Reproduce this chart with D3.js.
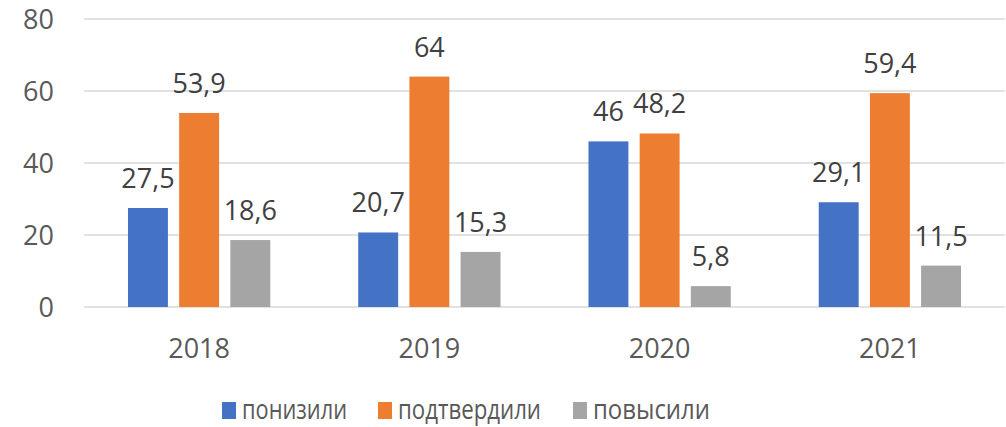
<!DOCTYPE html>
<html>
<head>
<meta charset="utf-8">
<script src="https://cdn.jsdelivr.net/npm/d3@7"></script>
<style>
  body { margin: 0; background: #fff; }
  svg { display: block; }
  text { font-family: "Open Sans", "Noto Sans", sans-serif; }
</style>
</head>
<body>
<svg id="chart" width="1006" height="427"></svg>
<script>
const years = ["2018", "2019", "2020", "2021"];
const seriesNames = ["понизили", "подтвердили", "повысили"];
const seriesColors = ["#4472C4", "#ED7D31", "#A5A5A5"];
const lowered = [27.5, 20.7, 46, 29.1];
const confirmed = [53.9, 64, 48.2, 59.4];
const raised = [18.6, 15.3, 5.8, 11.5];
const yTicks = [0, 20, 40, 60, 80];

const seriesValues = [lowered, confirmed, raised];

const svg = d3.select("#chart");
const plotLeft = 84, plotRight = 1005, plotTop = 19, plotBottom = 307;

const y = d3.scaleLinear().domain([0, 80]).range([plotBottom, plotTop]);
const x0 = d3.scaleBand().domain(years).range([plotLeft, plotRight]).paddingInner(0.382).paddingOuter(0.191);
const x1 = d3.scaleBand().domain(seriesNames).range([0, x0.bandwidth()]).paddingInner(0.22).paddingOuter(0);

// gridlines
svg.append("g").selectAll("line").data(yTicks).join("line")
  .attr("x1", plotLeft).attr("x2", plotRight)
  .attr("y1", d => y(d)).attr("y2", d => y(d))
  .attr("stroke", "#D9D9D9").attr("stroke-width", 1.5);

// y tick labels
svg.append("g").selectAll("text").data(yTicks).join("text")
  .attr("x", 54).attr("y", d => y(d))
  .attr("dy", "0.36em")
  .attr("text-anchor", "end")
  .attr("font-size", 27).attr("fill", "#595959")
  .text(d => d);

// x labels
svg.append("g").selectAll("text").data(years).join("text")
  .attr("x", d => x0(d) + x0.bandwidth() / 2).attr("y", 358)
  .attr("text-anchor", "middle")
  .attr("font-size", 27).attr("fill", "#595959")
  .text(d => d);

// bars & labels
const fmt = v => String(v).replace(".", ",");
seriesNames.forEach((s, si) => {
  const data = years.map((yr, i) => ({ yr, v: seriesValues[si][i] }));
  svg.append("g").selectAll("rect").data(data).join("rect")
    .attr("x", d => x0(d.yr) + x1(s))
    .attr("width", x1.bandwidth())
    .attr("y", d => y(d.v))
    .attr("height", d => y(0) - y(d.v))
    .attr("fill", seriesColors[si]);
  svg.append("g").selectAll("text").data(data).join("text")
    .attr("x", d => x0(d.yr) + x1(s) + x1.bandwidth() / 2)
    .attr("y", d => y(d.v) - 20)
    .attr("text-anchor", "middle")
    .attr("font-size", 27).attr("fill", "#404040")
    .text(d => fmt(d.v));
});

// legend
const legendX = [222, 378, 573];
const legendTextWidth = [105, 143, 117];
const lg = svg.append("g");
seriesNames.forEach((s, i) => {
  lg.append("rect").attr("x", legendX[i]).attr("y", 402).attr("width", 14).attr("height", 17)
    .attr("fill", seriesColors[i]);
  lg.append("text").attr("x", legendX[i] + 20).attr("y", 419)
    .attr("font-size", 27).attr("fill", "#595959")
    .attr("textLength", legendTextWidth[i]).attr("lengthAdjust", "spacingAndGlyphs")
    .text(s);
});
</script>
</body>
</html>
